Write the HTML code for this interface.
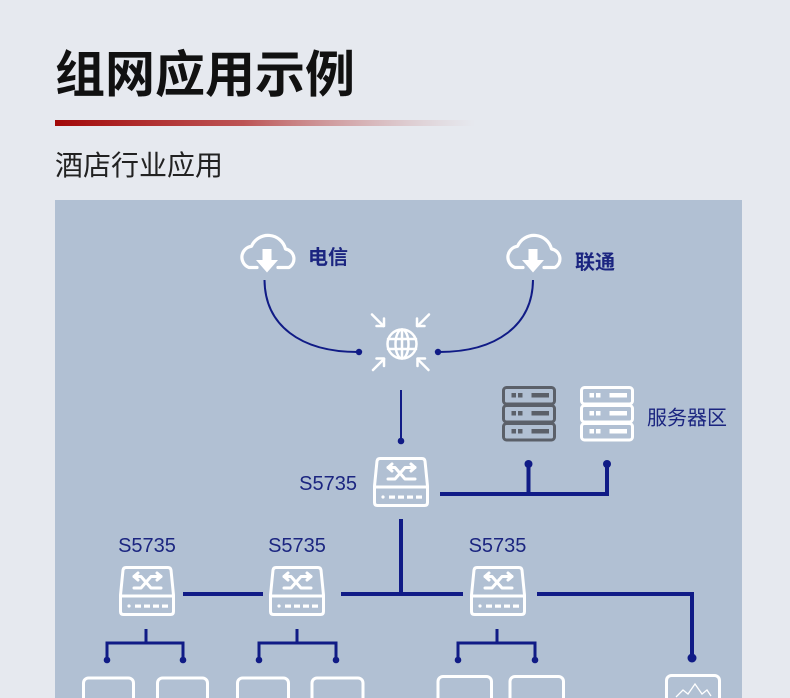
<!DOCTYPE html>
<html><head><meta charset="utf-8"><style>
html,body{margin:0;padding:0;background:#e6e9ef;}
svg{display:block;}
.cjk{font-family:"Liberation Sans","Noto Sans CJK SC",sans-serif;}
</style></head><body>
<svg width="790" height="698" viewBox="0 0 790 698" xmlns="http://www.w3.org/2000/svg">
<defs>
<linearGradient id="rg" x1="0" y1="0" x2="1" y2="0">
<stop offset="0" stop-color="#a20808" stop-opacity="1"/>
<stop offset="0.45" stop-color="#b53a3a" stop-opacity="0.85"/>
<stop offset="1" stop-color="#c88a8a" stop-opacity="0"/>
</linearGradient>
<g id="sw" fill="none" stroke="#fff" stroke-width="3" stroke-linejoin="round" stroke-linecap="round">
<path d="M7,1.5 H49 Q51.5,1.5 52,4 L54.5,29 V45.5 Q54.5,48.5 51.5,48.5 H4.5 Q1.5,48.5 1.5,45.5 V29 L4,4 Q4.5,1.5 7,1.5 Z"/>
<line x1="1.5" y1="30" x2="54.5" y2="30"/>
<path d="M15,10.5 H22 L32,22 H42"/>
<path d="M15,22 H22 L32,10.5 H42"/>
<path d="M19,7 L15,10.5 L19,14"/>
<path d="M38,7 L42,10.5 L38,14"/>
<circle cx="10" cy="40" r="1.6" fill="#fff" stroke="none"/>
<g stroke="none" fill="#fff">
<rect x="16" y="38.5" width="6" height="3.2"/>
<rect x="25" y="38.5" width="6" height="3.2"/>
<rect x="34" y="38.5" width="6" height="3.2"/>
<rect x="43" y="38.5" width="6" height="3.2"/>
</g>
</g>
<g id="cloud">
<path d="M257,267.5 H249 A11,11 0 0 1 251.5,246.3 A18,18 0 0 1 285.5,249 A10,10 0 0 1 289,267.5 H278" fill="none" stroke="#fff" stroke-width="3.2" stroke-linecap="round" stroke-linejoin="round"/>
<polygon points="262.5,249 271.5,249 271.5,260 278,260 267,272.5 256,260 262.5,260" fill="#fff"/>
</g>
<g id="srv" fill="none" stroke-width="3">
<rect x="1.5" y="1.5" width="51" height="16.5" rx="3"/>
<rect x="1.5" y="19.5" width="51" height="16.5" rx="3"/>
<rect x="1.5" y="37.5" width="51" height="16.5" rx="3"/>
</g>
</defs>

<!-- header -->
<text x="55" y="92" class="cjk" font-size="50" font-weight="bold" fill="#111">组网应用示例</text>
<rect x="55" y="120" width="420" height="6" fill="url(#rg)"/>
<text x="55" y="175" class="cjk" font-size="28" fill="#222">酒店行业应用</text>

<!-- panel -->
<rect x="55" y="200" width="687" height="498" fill="#b1c0d3"/>

<!-- clouds -->
<use href="#cloud"/>
<use href="#cloud" transform="translate(266,0)"/>
<text x="308" y="264" class="cjk" font-size="20" font-weight="bold" fill="#1b2580">电信</text>
<text x="575" y="269" class="cjk" font-size="20" font-weight="bold" fill="#1b2580">联通</text>

<!-- curves -->
<g fill="none" stroke="#101b86" stroke-width="2">
<path d="M264.5,280 C265,325 300,352 358,352"/>
<path d="M533,280 C532.5,325 497,352 439,352"/>
<line x1="401" y1="390" x2="401" y2="440"/>
</g>
<g fill="#101b86">
<circle cx="359" cy="352" r="3.2"/>
<circle cx="438" cy="352" r="3.2"/>
<circle cx="401" cy="441" r="3.3"/>
</g>

<!-- globe -->
<g fill="none" stroke="#fff" stroke-width="2.5" stroke-linecap="round" stroke-linejoin="round">
<circle cx="402" cy="344" r="14.5"/>
<ellipse cx="402" cy="344" rx="6.5" ry="14.5"/>
<line x1="402" y1="329.5" x2="402" y2="358.5"/>
<line x1="388" y1="339" x2="416" y2="339"/>
<line x1="388" y1="349" x2="416" y2="349"/>
<line x1="372" y1="314.5" x2="383.5" y2="326"/>
<path d="M384,318.5 V326 H376.5"/>
<line x1="429" y1="314.5" x2="417.5" y2="326"/>
<path d="M417,318.5 V326 H424.5"/>
<line x1="373" y1="370" x2="384" y2="359"/>
<path d="M376.5,358.5 H384 V366"/>
<line x1="428.5" y1="370" x2="417.5" y2="359"/>
<path d="M425,358.5 H417.5 V366"/>
</g>

<!-- servers -->
<use href="#srv" transform="translate(502,386)" stroke="#5b6069"/>
<use href="#srv" transform="translate(580,386)" stroke="#fff"/>
<g fill="#5b6069">
<rect x="511.5" y="393" width="4.5" height="4.5"/><rect x="518" y="393" width="4.5" height="4.5"/><rect x="531.5" y="393" width="17.5" height="4.5"/>
<rect x="511.5" y="411" width="4.5" height="4.5"/><rect x="518" y="411" width="4.5" height="4.5"/><rect x="531.5" y="411" width="17.5" height="4.5"/>
<rect x="511.5" y="429" width="4.5" height="4.5"/><rect x="518" y="429" width="4.5" height="4.5"/><rect x="531.5" y="429" width="17.5" height="4.5"/>
</g>
<g fill="#fff">
<rect x="589.5" y="393" width="4.5" height="4.5"/><rect x="596" y="393" width="4.5" height="4.5"/><rect x="609.5" y="393" width="17.5" height="4.5"/>
<rect x="589.5" y="411" width="4.5" height="4.5"/><rect x="596" y="411" width="4.5" height="4.5"/><rect x="609.5" y="411" width="17.5" height="4.5"/>
<rect x="589.5" y="429" width="4.5" height="4.5"/><rect x="596" y="429" width="4.5" height="4.5"/><rect x="609.5" y="429" width="17.5" height="4.5"/>
</g>
<text x="647" y="424.5" class="cjk" font-size="20" fill="#1b2580">服务器区</text>

<!-- switches -->
<use href="#sw" transform="translate(373,457)"/>
<use href="#sw" transform="translate(119,566)"/>
<use href="#sw" transform="translate(269,566)"/>
<use href="#sw" transform="translate(470,566)"/>
<g font-family="Liberation Sans, Arial, sans-serif" font-size="20" fill="#1b2580">
<text x="357" y="490" text-anchor="end">S5735</text>
<text x="147" y="552" text-anchor="middle">S5735</text>
<text x="297" y="552" text-anchor="middle">S5735</text>
<text x="497.5" y="552" text-anchor="middle">S5735</text>
</g>

<!-- thick lines -->
<g fill="none" stroke="#101b86" stroke-width="4">
<path d="M440,494 H609"/>
<line x1="528.5" y1="464" x2="528.5" y2="494"/>
<line x1="607" y1="464" x2="607" y2="494"/>
<line x1="401" y1="519" x2="401" y2="594"/>
<path d="M341,594 H463"/>
<path d="M183,594 H263"/>
<path d="M537,594 H692 V657"/>
</g>
<g fill="#101b86">
<circle cx="528.5" cy="464" r="4"/>
<circle cx="607" cy="464" r="4"/>
<circle cx="692" cy="658" r="4.5"/>
</g>

<!-- sub branches -->
<g fill="none" stroke="#101b86" stroke-width="3">
<path d="M146,629 V643 M107,660 V643 H183 V660"/>
<path d="M297,629 V643 M259,660 V643 H336 V660"/>
<path d="M497,629 V643 M458,660 V643 H535 V660"/>
</g>
<g fill="#101b86">
<circle cx="107" cy="660" r="3.3"/><circle cx="183" cy="660" r="3.3"/>
<circle cx="259" cy="660" r="3.3"/><circle cx="336" cy="660" r="3.3"/>
<circle cx="458" cy="660" r="3.3"/><circle cx="535" cy="660" r="3.3"/>
</g>

<!-- bottom boxes -->
<g fill="none" stroke="#fff" stroke-width="3">
<rect x="83.5" y="678" width="50" height="40" rx="5"/>
<rect x="157.5" y="678" width="50" height="40" rx="5"/>
<rect x="237.5" y="678" width="51" height="40" rx="5"/>
<rect x="312" y="678" width="51" height="40" rx="5"/>
<rect x="438" y="676.5" width="53.5" height="40" rx="5"/>
<rect x="510" y="676.5" width="53.5" height="40" rx="5"/>
<rect x="666.5" y="675.5" width="53" height="40" rx="5"/>
</g>
<polyline points="676,697 683,690 688,694 695,684 702,694 707,690 711,696" fill="none" stroke="#fff" stroke-width="1.3"/>
</svg>
</body></html>
